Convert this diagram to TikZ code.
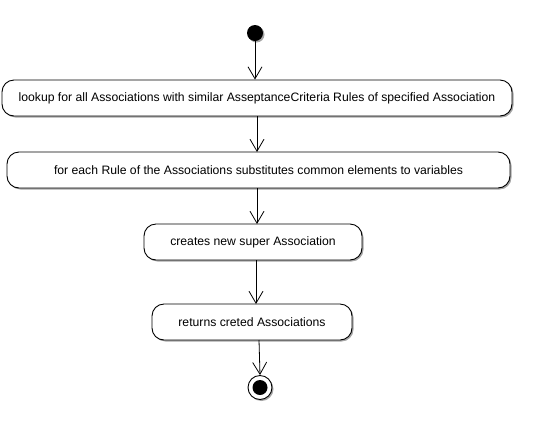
\documentclass[tikz,border=0pt]{standalone}
\usepackage{fontspec}
\setmainfont{Liberation Sans}
\usetikzlibrary{arrows.meta,shadows}
\begin{document}
\begin{tikzpicture}[x=1pt,y=-1pt,
  act/.style={draw=black, line width=0.9pt, fill=white, rounded corners=12pt,
    minimum height=36pt, inner sep=0pt, font=\fontsize{12.2}{14}\selectfont,
    drop shadow={shadow xshift=1.5pt, shadow yshift=-1.5pt, fill=gray!70, opacity=1}},
  flow/.style={line width=0.8pt, -{Straight Barb[length=12pt,width=14pt]}}
]
\useasboundingbox (0,0) rectangle (559,424);
\fill[gray!70] (256.5,34.5) circle (8);
\node[circle, fill=black, minimum size=16pt, inner sep=0pt] (start) at (255,33) {};
\node[act, minimum width=510pt] (a1) at (257,98) {lookup for all Associations with similar AsseptanceCriteria Rules of specified Association};
\node[act, minimum width=503pt] (a2) at (258.5,170) {for each Rule of the Associations substitutes common elements to variables};
\node[act, minimum width=218pt] (a3) at (253,242) {creates new super Association};
\node[act, minimum width=200pt] (a4) at (252,322) {returns creted Associations};
\fill[gray!70] (261.5,389) circle (12);
\node[circle, draw=black, line width=0.9pt, fill=white, minimum size=24pt, inner sep=0pt] (endo) at (260,387.5) {};
\node[circle, fill=black, minimum size=15pt, inner sep=0pt] (endi) at (endo) {};
\draw[flow] (start) -- (start |- a1.north);
\draw[flow] (257,116) -- (257,152);
\draw[flow] (257,188) -- (257,224);
\draw[flow] (256,260) -- (256,304);
\draw[flow] (259,340) -- (endo.north);
\end{tikzpicture}
\end{document}
